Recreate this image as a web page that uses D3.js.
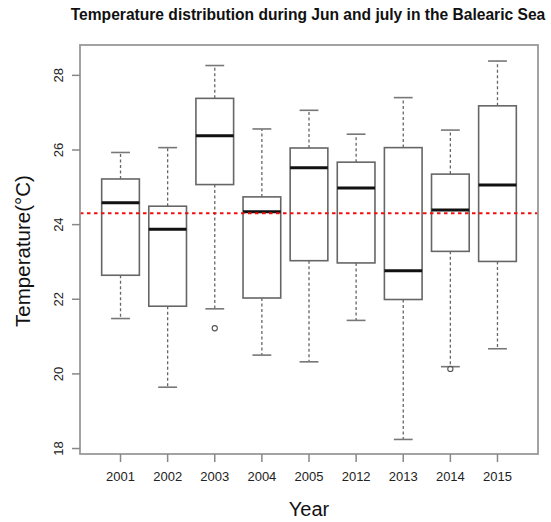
<!DOCTYPE html>
<html>
<head>
<meta charset="utf-8">
<script src="https://cdn.jsdelivr.net/npm/d3@7"></script>
<style>
  html, body { margin: 0; padding: 0; background: #fff; }
  svg { display: block; font-family: "Liberation Sans", Arial, sans-serif; }
</style>
</head>
<body>
<svg id="chart" width="551" height="522"></svg>
<script>
// Sea-surface temperature summaries per year (°C)
const years       = ["2001", "2002", "2003", "2004", "2005", "2012", "2013", "2014", "2015"];
const whiskerLow  = [21.47, 19.63, 21.73, 20.49, 20.31, 21.42, 18.23, 20.18, 20.66];
const q1          = [22.63, 21.80, 25.06, 22.02, 23.02, 22.96, 21.98, 23.27, 23.00];
const medians     = [24.57, 23.86, 26.37, 24.33, 25.51, 24.97, 22.75, 24.38, 25.05];
const q3          = [25.21, 24.48, 27.37, 24.73, 26.04, 25.66, 26.05, 25.34, 27.17];
const whiskerHigh = [25.92, 26.05, 28.25, 26.55, 27.05, 26.41, 27.39, 26.52, 28.37];
const outlierYears  = ["2003", "2014"];
const outlierValues = [21.21, 20.12];
const meanTemp = 24.29;
const yTicks = [18, 20, 22, 24, 26, 28];

const boxes = years.map((y, i) => ({
  year: y, lo: whiskerLow[i], q1: q1[i], med: medians[i], q3: q3[i], hi: whiskerHigh[i]
}));
const outliers = outlierYears.map((y, i) => ({ year: y, value: outlierValues[i] }));

const frame = { left: 80, right: 538, top: 45, bottom: 454 };
const svg = d3.select("#chart");

const x = d3.scaleBand()
  .domain(years)
  .range([frame.left, frame.right])
  .paddingInner(0.2)
  .paddingOuter(0.46);

const y = d3.scaleLinear()
  .domain([17.84, 28.8])
  .range([frame.bottom, frame.top]);

const bw = x.bandwidth();
const cap = bw / 2;

// Title
svg.append("text")
  .attr("x", 308)
  .attr("y", 20)
  .attr("text-anchor", "middle")
  .attr("font-weight", "bold")
  .attr("font-size", 15.6)
  .attr("fill", "#111")
  .text("Temperature distribution during Jun and july in the Balearic Sea");

const g = svg.append("g");

// Whiskers (dashed) and staples
const wcol = "#666";
g.selectAll(".whisker-up").data(boxes).join("line")
  .attr("x1", d => x(d.year) + bw / 2).attr("x2", d => x(d.year) + bw / 2)
  .attr("y1", d => y(d.q3)).attr("y2", d => y(d.hi))
  .attr("stroke", wcol).attr("stroke-width", 1.3).attr("stroke-dasharray", "3,2.5");
g.selectAll(".whisker-down").data(boxes).join("line")
  .attr("x1", d => x(d.year) + bw / 2).attr("x2", d => x(d.year) + bw / 2)
  .attr("y1", d => y(d.q1)).attr("y2", d => y(d.lo))
  .attr("stroke", wcol).attr("stroke-width", 1.3).attr("stroke-dasharray", "3,2.5");
g.selectAll(".staple-hi").data(boxes).join("line")
  .attr("x1", d => x(d.year) + bw / 2 - cap / 2).attr("x2", d => x(d.year) + bw / 2 + cap / 2)
  .attr("y1", d => y(d.hi)).attr("y2", d => y(d.hi))
  .attr("stroke", "#777").attr("stroke-width", 1.6);
g.selectAll(".staple-lo").data(boxes).join("line")
  .attr("x1", d => x(d.year) + bw / 2 - cap / 2).attr("x2", d => x(d.year) + bw / 2 + cap / 2)
  .attr("y1", d => y(d.lo)).attr("y2", d => y(d.lo))
  .attr("stroke", "#777").attr("stroke-width", 1.6);

// Boxes
g.selectAll(".box").data(boxes).join("rect")
  .attr("x", d => x(d.year)).attr("width", bw)
  .attr("y", d => y(d.q3)).attr("height", d => y(d.q1) - y(d.q3))
  .attr("fill", "#fff").attr("stroke", "#666").attr("stroke-width", 1.6);

// Medians
g.selectAll(".median").data(boxes).join("line")
  .attr("x1", d => x(d.year)).attr("x2", d => x(d.year) + bw)
  .attr("y1", d => y(d.med)).attr("y2", d => y(d.med))
  .attr("stroke", "#111").attr("stroke-width", 3);

// Outliers
g.selectAll(".outlier").data(outliers).join("circle")
  .attr("cx", d => x(d.year) + bw / 2).attr("cy", d => y(d.value))
  .attr("r", 2.6).attr("fill", "none").attr("stroke", "#555").attr("stroke-width", 1.1);

// Mean reference line
svg.append("line")
  .attr("x1", frame.left).attr("x2", frame.right)
  .attr("y1", y(meanTemp)).attr("y2", y(meanTemp))
  .attr("stroke", "#f01010").attr("stroke-width", 2).attr("stroke-dasharray", "3.5,3.5");

// Frame
svg.append("rect")
  .attr("x", frame.left).attr("y", frame.top)
  .attr("width", frame.right - frame.left).attr("height", frame.bottom - frame.top)
  .attr("fill", "none").attr("stroke", "#999").attr("stroke-width", 1.8);

// Axes
const xAxis = svg.append("g")
  .attr("transform", `translate(0,${frame.bottom})`)
  .call(d3.axisBottom(x).tickSize(8).tickPadding(10));
xAxis.select(".domain").remove();
xAxis.selectAll(".tick line").attr("stroke", "#888").attr("stroke-width", 1.5);
xAxis.selectAll(".tick text").attr("font-size", 13).attr("fill", "#222")
  .attr("font-family", "Liberation Sans, Arial, sans-serif");

const yAxis = svg.append("g")
  .attr("transform", `translate(${frame.left},0)`)
  .call(d3.axisLeft(y).tickValues(yTicks).tickSize(8));
yAxis.select(".domain").remove();
yAxis.selectAll(".tick line").attr("stroke", "#888").attr("stroke-width", 1.5);
yAxis.selectAll(".tick text")
  .attr("x", null).attr("dy", null)
  .attr("transform", "translate(-17,0) rotate(-90)")
  .attr("text-anchor", "middle")
  .attr("font-size", 13).attr("fill", "#222")
  .attr("font-family", "Liberation Sans, Arial, sans-serif");

// Axis titles
svg.append("text")
  .attr("x", (frame.left + frame.right) / 2)
  .attr("y", 516)
  .attr("text-anchor", "middle")
  .attr("font-size", 20)
  .attr("fill", "#111")
  .text("Year");

svg.append("text")
  .attr("transform", "translate(30,251) rotate(-90)")
  .attr("text-anchor", "middle")
  .attr("font-size", 20.5)
  .attr("fill", "#111")
  .text("Temperature(°C)");
</script>
</body>
</html>
